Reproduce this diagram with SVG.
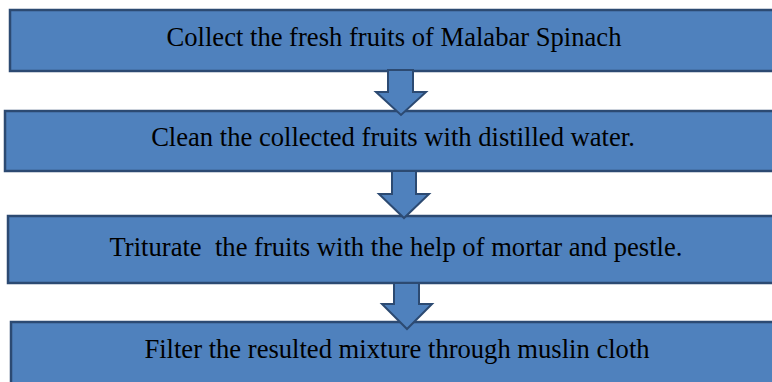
<svg xmlns="http://www.w3.org/2000/svg" width="772" height="382" viewBox="0 0 772 382">
<style>
.box{fill:#4F81BD;stroke:#2C4A72;stroke-width:2.5}
.arr{fill:#4F81BD;stroke:#2C4A72;stroke-width:2;stroke-linejoin:miter}
.t{font-family:"Liberation Serif","Times New Roman",serif;font-size:26.6px;fill:#000;text-anchor:middle}
</style>
<rect width="772" height="382" fill="#fff"/>
<g id="step1"><rect class="box" x="10" y="10" width="780" height="61"/><text class="t" x="394" y="46">Collect the fresh fruits of Malabar Spinach</text></g>
<g id="step2"><rect class="box" x="5" y="111" width="785" height="60"/><text class="t" x="393" y="146">Clean the collected fruits with distilled water.</text></g>
<g id="step3"><rect class="box" x="8" y="216" width="782" height="67"/><text class="t" x="396" y="256" xml:space="preserve">Triturate  the fruits with the help of mortar and pestle.</text></g>
<g id="step4"><rect class="box" x="11" y="322" width="779" height="70"/><text class="t" x="397" y="358">Filter the resulted mixture through muslin cloth</text></g>
<g id="connectors">
<polygon class="arr" points="388,70 413,70 413,92 426,92 401,115 376,92 388,92"/>
<polygon class="arr" points="392,171 416,171 416,194 429,194 404,218 379,194 392,194"/>
<polygon class="arr" points="394,283 419,283 419,304 432,304 407,329 382,304 394,304"/>
</g>
</svg>
